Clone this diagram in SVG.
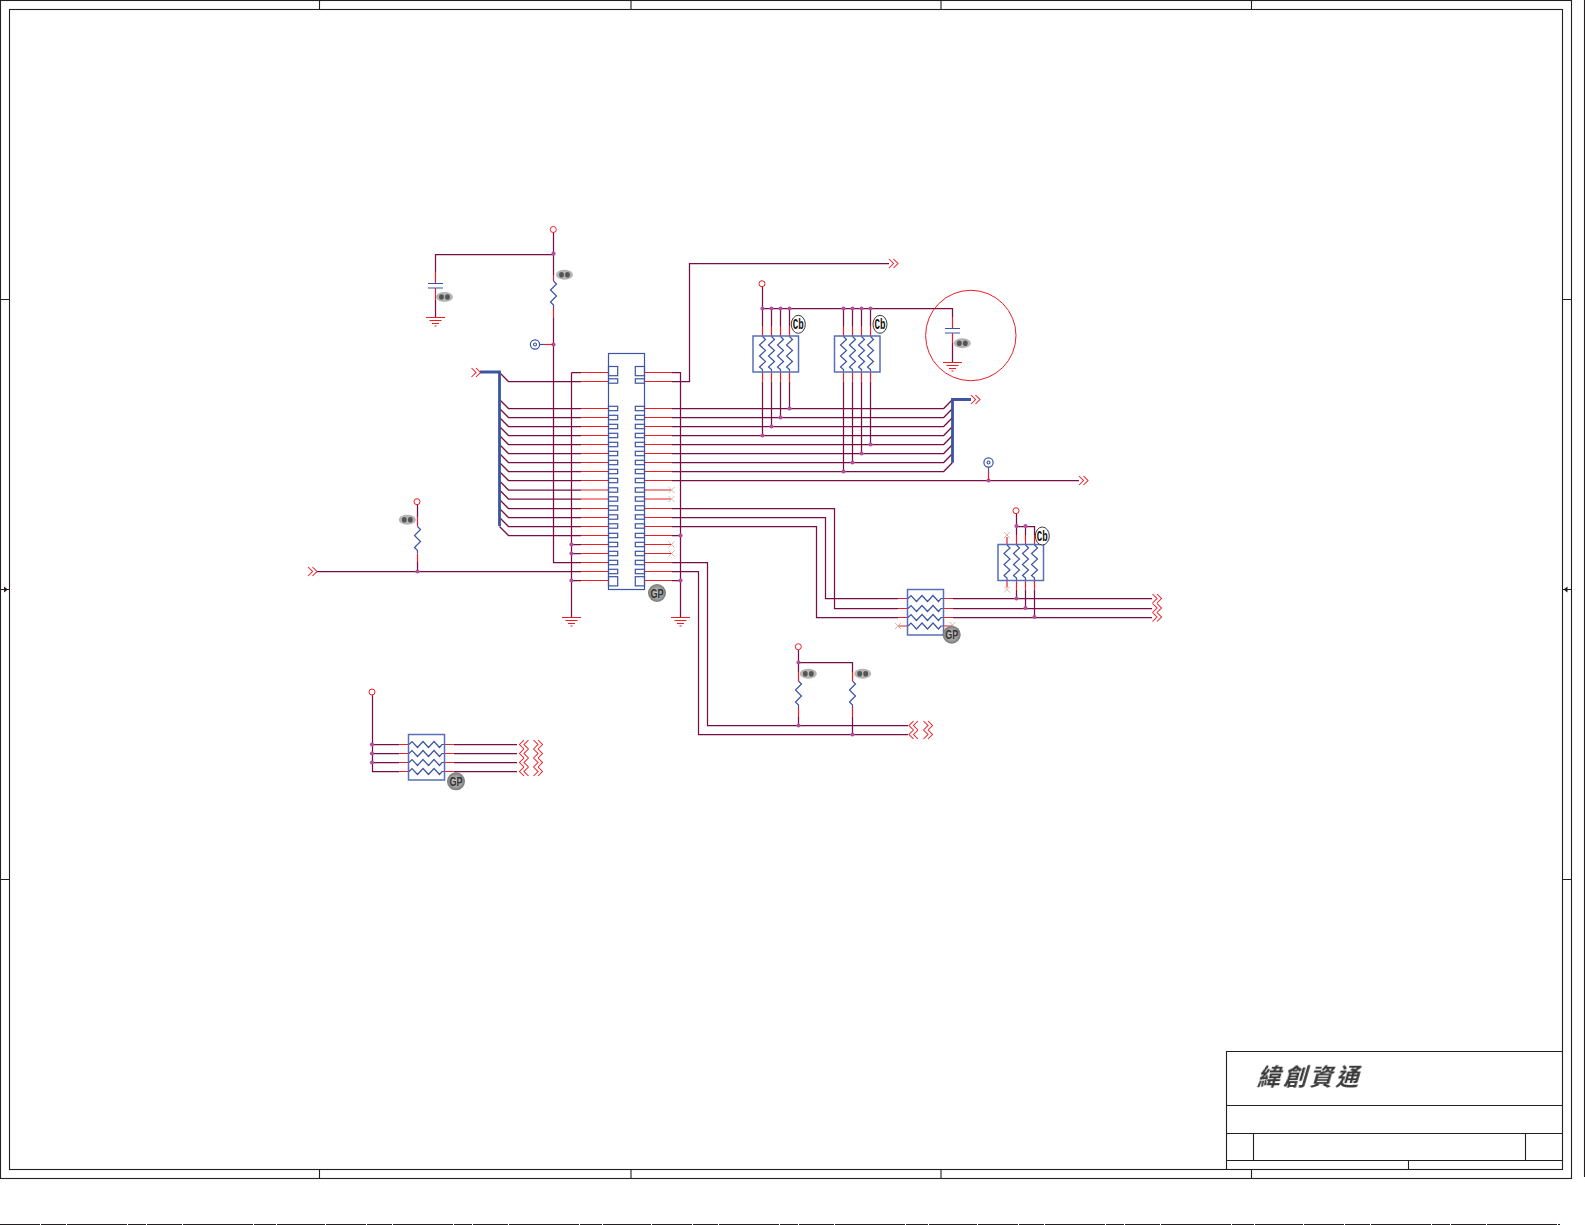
<svg xmlns="http://www.w3.org/2000/svg" width="1585" height="1225" viewBox="0 0 1585 1225">
<style>
.frame{fill:none;stroke:#231f20;stroke-width:1.1}
.wire{fill:none;stroke:#770f46;stroke-width:1.25}
.pin{fill:none;stroke:#ee1c25;stroke-width:1.2}
.sym{fill:none;stroke:#3b54a4;stroke-width:1.2}
.box{fill:none;stroke:#5770b8;stroke-width:1.5}
.bus{fill:none;stroke:#3b54a4;stroke-width:2.8}
.chev{fill:none;stroke:#ee1c25;stroke-width:1.05}
.xm{fill:none;stroke:#c9a893;stroke-width:.8}
.dot{fill:#b0509f}
.lbl{font-family:"Liberation Sans",Arial,sans-serif;font-weight:700;text-anchor:middle}
.gp{font-size:12px;fill:#333}
.cb{font-family:"Liberation Mono",monospace;font-size:14px;fill:#111}
.cn{font-family:"Noto Sans CJK TC","Noto Sans CJK SC",serif;font-weight:700;font-size:23px;letter-spacing:3.2px;fill:#3a3a3a}
</style>
<defs>
<radialGradient id="gb"><stop offset="0" stop-color="#cfcfcf"/><stop offset=".7" stop-color="#999"/><stop offset="1" stop-color="#777"/></radialGradient>
<filter id="soft" x="-20%" y="-20%" width="140%" height="140%"><feGaussianBlur stdDeviation=".7"/></filter>
<filter id="soft2" x="-5%" y="-5%" width="110%" height="110%"><feGaussianBlur stdDeviation=".35"/></filter>
<path id="cr" class="chev" d="M0 -4.5L4.5 0L0 4.5M4.5 -4.5L9 0L4.5 4.5"/>
<path id="cl" class="chev" d="M4.5 -4.5L0 0L4.5 4.5M9 -4.5L4.5 0L9 4.5"/>
<path id="gnd" class="pin" d="M-9.5 0H9.5M-6 3H6M-3.5 6H3.5M-1 8.5H1"/>
<path id="rv" class="sym" d="M0 0L3 3L-3 9L3 15L-3 21L0 24V27"/>
<path id="zv" class="sym" d="M0 0L3 3L-3 8.5L3 14L-3 19.5L3 25L-3 30.5L0 33V35"/>
<path id="zh" class="sym" d="M0 0L3 -3L8.5 3L14 -3L19.5 3L25 -3L30.5 3L33 0H35"/>
<path id="xx" class="xm" d="M-3 -3L3 3M-3 3L3 -3"/>
<circle id="pw" cx="0" cy="0" r="3" fill="#fff" stroke="#ee1c25" stroke-width="1"/>
<circle id="j" class="dot" cx="0" cy="0" r="2.1"/>
<g id="tg"><circle r="4.6" fill="#fff" stroke="#3b54a4" stroke-width="1.2"/><circle r="1.5" fill="none" stroke="#3b54a4" stroke-width="1.1"/></g>
<g id="sm" filter="url(#soft)"><ellipse rx="8.5" ry="5" fill="#b5b5b5"/><ellipse cx="-3" rx="2.4" ry="2.8" fill="#555"/><ellipse cx="3" rx="2.4" ry="2.8" fill="#555"/></g>
<g id="pad"><rect x="0" y="-2.2" width="9.2" height="4.4" class="sym"/></g>
</defs>
<rect width="1585" height="1225" fill="#fff"/>
<g id="frame">
<rect class="frame" x="0.5" y="0.5" width="1571" height="1178"/>
<rect class="frame" x="9.5" y="9.5" width="1553" height="1160"/>
<path class="frame" d="M319.5 0V9.5M631 0V9.5M941 0V9.5M1251.5 0V9.5M319.5 1169.5V1178.5M631 1169.5V1178.5M941 1169.5V1178.5M1251.5 1169.5V1178.5M0 299.5H9.5M0 879.5H9.5M1562.5 299.5H1571.5M1562.5 879.5H1571.5M0 589.5H9.5M1562.5 589.5H1571.5M1584.5 0V1177"/>
<path fill="#231f20" d="M8 589.5L4 586.5V592.5ZM1563.5 589.5L1567.5 586.5V592.5Z"/>
<path d="M0 1224.5H1560" stroke="#231f20" stroke-width="1" stroke-dasharray="40 1 25 1 60 1 18 1 35 1 70 1 22 1 48 1"/>
</g>
<g id="title-block">
<path class="frame" d="M1226.5 1169.5V1051.5H1562.5M1226.5 1105.5H1562.5M1226.5 1133.5H1562.5M1226.5 1160.5H1562.5M1253.5 1133.5V1160.5M1525.5 1133.5V1160.5M1408.5 1160.5V1169.5"/>
<text class="cn" filter="url(#soft2)" transform="translate(1257 1085) skewX(-16)">緯創資通</text>
</g>
<g id="connectors">
<path class="wire" d="M553.5 232V275M553.5 318V562.5H581M435.5 272V254.5H553.5M435.5 300V317"/>
<path class="wire" d="M571.5 372.5H581M571.5 372.5V617M571.5 544.5H581M571.5 553.5H581M571.5 580.5H581"/>
<path class="wire" d="M499.5 372.5L508.5 381.5H581M499.5 399.5L508.5 408.5H581M499.5 408.5L508.5 417.5H581M499.5 417.5L508.5 426.5H581M499.5 426.5L508.5 435.5H581M499.5 435.5L508.5 444.5H581M499.5 444.5L508.5 453.5H581M499.5 453.5L508.5 462.5H581M499.5 462.5L508.5 471.5H581M499.5 471.5L508.5 480.5H581M499.5 481L508.5 490H581M499.5 490L508.5 499H581M499.5 499.5L508.5 508.5H581M499.5 508.5L508.5 517.5H581M499.5 517.5L508.5 526.5H581M499.5 526.5L508.5 535.5H581"/>
<path class="wire" d="M317 571.5H581M672 571.5H698.5V734.5H908M672 562.5H707.5V725.5H908"/>
<path class="wire" d="M672 372.5H680.5V617M672 381.5H689.5V263.5H889M672 535.5H680.5M672 580.5H680.5"/>
<path class="wire" d="M672 408.5H943.7L952.5 399.5M672 417.5H943.7L952.5 408.5M672 426.5H943.7L952.5 417.5M672 435.5H943.7L952.5 426.5M672 444.5H943.7L952.5 435.5M672 453.5H943.7L952.5 444.5M672 462.5H943.7L952.5 453.5M672 471.5H943.7L952.5 462.5"/>
<path class="wire" d="M672 480.5H1079M672 508.5H834.5V608.5H898M672 517.5H825.5V598.5H898M672 526.5H816.5V617.5H898M953 598.5H1152M953 608.5H1152M953 617.5H1152"/>
<path class="wire" d="M762.5 287V326M762.5 308.5H952.5V317M771.5 308.5V326M780.5 308.5V326M789.5 308.5V326M843.5 308.5V326M852.5 308.5V326M861.5 308.5V326M870.5 308.5V326M952.5 343V362"/>
<path class="wire" d="M762.5 381.7V435.5M771.5 381.7V426.5M780.5 381.7V417.5M789.5 381.7V408.5M843.5 381.7V471.5M852.5 381.7V462.5M861.5 381.7V453.5M870.5 381.7V444.5"/>
<path class="wire" d="M1016.5 514V535M1016.5 526.5H1034.5V535M1025.5 526.5V535M1016.5 589.5V598.5M1025.5 589.5V608.5M1034.5 589.5V617.5"/>
<path class="wire" d="M798.5 650V672M798.5 662.5H852.5V672M798.5 717V725.5M852.5 717V734.5M417.5 505V517M417.5 562V571.5"/>
<path class="wire" d="M372.5 695V771.5H399.5M372.5 744.5H399.5M372.5 753.5H399.5M372.5 762.5H399.5M453.7 744.5H517M453.7 753.5H517M453.7 762.5H517M453.7 771.5H517"/>
<path class="bus" d="M480 372H499.5V526M952.5 462.7V399.5H971"/>
<g>
<use href="#j" x="553.5" y="253.7"/><use href="#j" x="553.5" y="344.5"/>
<use href="#j" x="571.5" y="544.5"/><use href="#j" x="571.5" y="553.5"/><use href="#j" x="571.5" y="580.5"/>
<use href="#j" x="680.5" y="535.5"/><use href="#j" x="680.5" y="580.5"/>
<use href="#j" x="417.5" y="571.5"/>
<use href="#j" x="762.5" y="308.5"/><use href="#j" x="771.5" y="308.5"/><use href="#j" x="780.5" y="308.5"/><use href="#j" x="789.5" y="308.5"/>
<use href="#j" x="843.5" y="308.5"/><use href="#j" x="852.5" y="308.5"/><use href="#j" x="861.5" y="308.5"/><use href="#j" x="870.5" y="308.5"/>
<use href="#j" x="762.5" y="435.5"/><use href="#j" x="771.5" y="426.5"/><use href="#j" x="780.5" y="417.5"/><use href="#j" x="789.5" y="408.5"/>
<use href="#j" x="843.5" y="471.5"/><use href="#j" x="852.5" y="462.5"/><use href="#j" x="861.5" y="453.5"/><use href="#j" x="870.5" y="444.5"/>
<use href="#j" x="988.5" y="480.5"/>
<use href="#j" x="1016.5" y="526"/><use href="#j" x="1025.5" y="526"/>
<use href="#j" x="1016.5" y="598.5"/><use href="#j" x="1025.5" y="608"/><use href="#j" x="1034.5" y="617"/>
<use href="#j" x="798.5" y="662.5"/><use href="#j" x="798.5" y="725.5"/><use href="#j" x="852.5" y="734.5"/>
<use href="#j" x="372" y="744.5"/><use href="#j" x="372" y="753.5"/><use href="#j" x="372" y="762.5"/>
</g>
<g>
<use href="#cr" x="471.5" y="372.5"/><use href="#cr" x="889" y="263.5"/><use href="#cr" x="971" y="399.5"/><use href="#cr" x="1079" y="480.5"/><use href="#cr" x="308" y="571.5"/>
<use href="#cr" x="1152.5" y="598.5"/><use href="#cr" x="1152.5" y="608"/><use href="#cr" x="1152.5" y="617"/>
<use href="#cl" x="909" y="725.5"/><use href="#cl" x="909" y="734.5"/><use href="#cr" x="923.5" y="725.5"/><use href="#cr" x="923.5" y="734.5"/>
<use href="#cl" x="519.5" y="744.5"/><use href="#cl" x="519.5" y="753.5"/><use href="#cl" x="519.5" y="762.5"/><use href="#cl" x="519.5" y="771.5"/>
<use href="#cr" x="533.5" y="744.5"/><use href="#cr" x="533.5" y="753.5"/><use href="#cr" x="533.5" y="762.5"/><use href="#cr" x="533.5" y="771.5"/>
</g>
</g>
<g id="J1">
<rect class="sym" x="608.5" y="353.5" width="36" height="236"/>
<path class="pin" d="M581 372.5H608.5M581 381.5H608.5M581 408.5H608.5M581 417.5H608.5M581 426.5H608.5M581 435.5H608.5M581 444.5H608.5M581 453.5H608.5M581 462.5H608.5M581 471.5H608.5M581 480.5H608.5M581 490H608.5M581 499H608.5M581 508.5H608.5M581 517.5H608.5M581 526.5H608.5M581 535.5H608.5M581 544.5H608.5M581 553.5H608.5M581 562.5H608.5M581 571.5H608.5M581 580.5H608.5"/>
<path class="pin" d="M644.5 372.5H672M644.5 381.5H672M644.5 408.5H672M644.5 417.5H672M644.5 426.5H672M644.5 435.5H672M644.5 444.5H672M644.5 453.5H672M644.5 462.5H672M644.5 471.5H672M644.5 480.5H672M644.5 490H671M644.5 499H671M644.5 508.5H672M644.5 517.5H672M644.5 526.5H672M644.5 535.5H672M644.5 544.5H671M644.5 553.5H671M644.5 562.5H672M644.5 571.5H672M644.5 580.5H672"/>
<rect class="sym" x="608.5" y="366.5" width="9.2" height="9.2"/><rect class="sym" x="635.3" y="366.5" width="9.2" height="9.2"/>
<rect class="sym" x="608.5" y="576.7" width="9.2" height="9.2"/><rect class="sym" x="635.3" y="576.7" width="9.2" height="9.2"/>
<use href="#pad" x="608.5" y="381"/><use href="#pad" x="635.3" y="381"/>
<use href="#pad" x="608.5" y="408.5"/><use href="#pad" x="635.3" y="408.5"/>
<use href="#pad" x="608.5" y="417.5"/><use href="#pad" x="635.3" y="417.5"/>
<use href="#pad" x="608.5" y="426.5"/><use href="#pad" x="635.3" y="426.5"/>
<use href="#pad" x="608.5" y="435.5"/><use href="#pad" x="635.3" y="435.5"/>
<use href="#pad" x="608.5" y="444.5"/><use href="#pad" x="635.3" y="444.5"/>
<use href="#pad" x="608.5" y="453.5"/><use href="#pad" x="635.3" y="453.5"/>
<use href="#pad" x="608.5" y="462.5"/><use href="#pad" x="635.3" y="462.5"/>
<use href="#pad" x="608.5" y="471.5"/><use href="#pad" x="635.3" y="471.5"/>
<use href="#pad" x="608.5" y="480.5"/><use href="#pad" x="635.3" y="480.5"/>
<use href="#pad" x="608.5" y="490"/><use href="#pad" x="635.3" y="490"/>
<use href="#pad" x="608.5" y="499"/><use href="#pad" x="635.3" y="499"/>
<use href="#pad" x="608.5" y="508"/><use href="#pad" x="635.3" y="508"/>
<use href="#pad" x="608.5" y="517"/><use href="#pad" x="635.3" y="517"/>
<use href="#pad" x="608.5" y="526"/><use href="#pad" x="635.3" y="526"/>
<use href="#pad" x="608.5" y="535.5"/><use href="#pad" x="635.3" y="535.5"/>
<use href="#pad" x="608.5" y="544.5"/><use href="#pad" x="635.3" y="544.5"/>
<use href="#pad" x="608.5" y="553.5"/><use href="#pad" x="635.3" y="553.5"/>
<use href="#pad" x="608.5" y="562.5"/><use href="#pad" x="635.3" y="562.5"/>
<use href="#pad" x="608.5" y="571.5"/><use href="#pad" x="635.3" y="571.5"/>
<use href="#xx" x="671.5" y="490"/><use href="#xx" x="671.5" y="499"/><use href="#xx" x="671.5" y="544.5"/><use href="#xx" x="671.5" y="553.5"/>
<circle cx="657" cy="593" r="9" fill="url(#gb)"/><text class="lbl gp" x="657" y="597.5" textLength="13" lengthAdjust="spacingAndGlyphs">GP</text>
</g>
<g id="GND1"><use href="#gnd" x="571.5" y="617.5"/></g>
<g id="GND2"><use href="#gnd" x="680.5" y="617.5"/></g>
<g id="C1">
<use href="#pw" x="553.3" y="229.5"/>
<use href="#gnd" x="435.5" y="317.5"/>
<path class="pin" d="M435.5 272V283.5M435.5 288V300"/>
<path class="sym" d="M428 283.5H443M428 288H443"/>
<use href="#sm" x="444.5" y="297"/>
</g>
<g id="R1">
<path class="pin" d="M553.5 275V281M553.5 308V318"/>
<use href="#rv" x="553.5" y="281"/>
<use href="#sm" x="564.5" y="274.7"/>
</g>
<g id="TP1"><use href="#tg" x="535" y="344.5"/><path class="sym" d="M539.6 344.5H545"/><path class="pin" d="M545 344.5H553"/></g>
<g id="R2">
<use href="#pw" x="417" y="501.7"/>
<path class="pin" d="M417.5 517V526.5M417.5 553.5V562"/>
<use href="#rv" x="417.5" y="526.5"/>
<use href="#sm" x="407.3" y="519.7"/>
</g>
<g id="RN1">
<use href="#pw" x="762" y="283.7"/>
<path class="pin" d="M762.5 326V336M771.5 326V336M780.5 326V336M789.5 326V336M762.5 372V381.7M771.5 372V381.7M780.5 372V381.7M789.5 372V381.7"/>
<rect class="box" x="753" y="336" width="45.5" height="36"/>
<use href="#zv" x="762.5" y="336.5"/><use href="#zv" x="771.5" y="336.5"/><use href="#zv" x="780.5" y="336.5"/><use href="#zv" x="789.5" y="336.5"/>
<ellipse cx="798.3" cy="324.3" rx="7" ry="9" fill="#fff" stroke="#222" stroke-width=".9"/><text class="lbl cb" x="798.3" y="329" textLength="11" lengthAdjust="spacingAndGlyphs">Cb</text>
</g>
<g id="RN2">
<path class="pin" d="M843.5 326V336M852.5 326V336M861.5 326V336M870.5 326V336M843.5 372V381.7M852.5 372V381.7M861.5 372V381.7M870.5 372V381.7"/>
<rect class="box" x="834.5" y="336" width="45.5" height="36"/>
<use href="#zv" x="843.5" y="336.5"/><use href="#zv" x="852.5" y="336.5"/><use href="#zv" x="861.5" y="336.5"/><use href="#zv" x="870.5" y="336.5"/>
<ellipse cx="880" cy="324.3" rx="7" ry="9" fill="#fff" stroke="#222" stroke-width=".9"/><text class="lbl cb" x="880" y="329" textLength="11" lengthAdjust="spacingAndGlyphs">Cb</text>
</g>
<g id="C2">
<circle cx="970.8" cy="335.5" r="45.2" fill="none" stroke="#ee1c25" stroke-width="1"/>
<path class="pin" d="M952.5 317V328.5M952.5 333V343"/>
<path class="sym" d="M945 328.5H960M945 333H960"/>
<use href="#gnd" x="952.5" y="362.5"/>
<use href="#sm" x="962.3" y="343.3"/>
</g>
<g id="TP2"><use href="#tg" x="988.5" y="462.5"/><path class="sym" d="M988.5 467V472"/><path class="pin" d="M988.5 472V480"/></g>
<g id="RN3">
<use href="#pw" x="1016" y="510.7"/>
<path class="pin" d="M1007 537V544.5M1016.5 535V544.5M1025.5 535V544.5M1034.5 535V544.5M1007 580.5V587.5M1016.5 580.5V589.5M1025.5 580.5V589.5M1034.5 580.5V589.5"/>
<rect class="box" x="998" y="544.5" width="45.5" height="36"/>
<use href="#zv" x="1007" y="545"/><use href="#zv" x="1016.5" y="545"/><use href="#zv" x="1025.5" y="545"/><use href="#zv" x="1034.5" y="545"/>
<use href="#xx" x="1007" y="535"/><use href="#xx" x="1007" y="589.5"/>
<ellipse cx="1042.3" cy="536" rx="7" ry="9" fill="#fff" stroke="#222" stroke-width=".9"/><text class="lbl cb" x="1042.3" y="540.7" textLength="11" lengthAdjust="spacingAndGlyphs">Cb</text>
</g>
<g id="RN4">
<path class="pin" d="M898 598.5H907.5M898 608.5H907.5M898 617.5H907.5M898 626H907.5M943.5 598.5H953M943.5 608.5H953M943.5 617.5H953M943.5 626H952"/>
<rect class="box" x="907.5" y="589.5" width="36" height="45.5"/>
<use href="#zh" x="908" y="598.5"/><use href="#zh" x="908" y="608.5"/><use href="#zh" x="908" y="617.5"/><use href="#zh" x="908" y="626"/>
<use href="#xx" x="898" y="626"/><use href="#xx" x="952.5" y="625"/>
<circle cx="951.7" cy="634.7" r="9" fill="url(#gb)"/><text class="lbl gp" x="951.7" y="639.2" textLength="13" lengthAdjust="spacingAndGlyphs">GP</text>
</g>
<g id="R3">
<use href="#pw" x="798.3" y="646.7"/>
<path class="pin" d="M798.5 672V681M798.5 707.5V717"/>
<use href="#rv" x="798.5" y="681"/>
<use href="#sm" x="808.3" y="673.7"/>
</g>
<g id="R4">
<path class="pin" d="M852.5 672V681M852.5 707.5V717"/>
<use href="#rv" x="852.5" y="681"/>
<use href="#sm" x="862.7" y="673.7"/>
</g>
<g id="RN5">
<use href="#pw" x="372" y="692"/>
<path class="pin" d="M399.5 744.5H408.5M399.5 753.5H408.5M399.5 762.5H408.5M399.5 771.5H408.5M444.5 744.5H453.7M444.5 753.5H453.7M444.5 762.5H453.7M444.5 771.5H453.7"/>
<rect class="box" x="408.5" y="734.5" width="36" height="45.5"/>
<use href="#zh" x="409" y="744.5"/><use href="#zh" x="409" y="753.5"/><use href="#zh" x="409" y="762.5"/><use href="#zh" x="409" y="771.5"/>
<circle cx="456" cy="781.3" r="9" fill="url(#gb)"/><text class="lbl gp" x="456" y="785.8" textLength="13" lengthAdjust="spacingAndGlyphs">GP</text>
</g>
</svg>
